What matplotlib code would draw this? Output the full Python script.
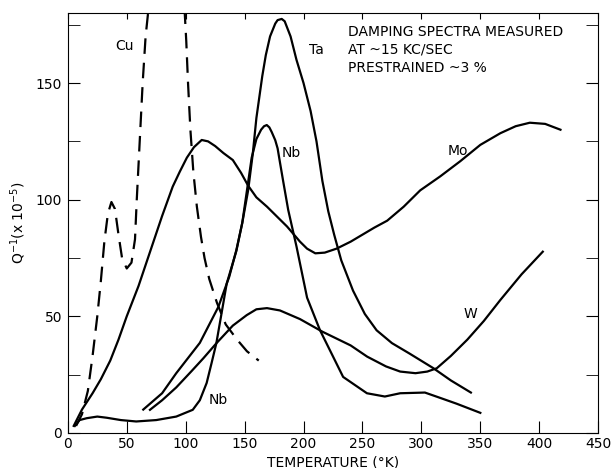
import matplotlib
matplotlib.use('Agg')
import matplotlib.pyplot as plt

# Cu (dashed), two branches
cu_x1 = [7, 12, 17, 21, 25, 28, 31, 34, 37, 40, 43, 46, 50, 54, 57, 58.5, 61, 63.5, 66, 68.5]
cu_y1 = [3, 8, 18, 33, 50, 65, 82, 94, 99, 96, 85, 75, 70.5, 73, 83, 100, 125, 150, 170, 182]
cu_x2 = [99, 100.5, 102, 104, 106.5, 109.5, 113, 116, 120, 126.6, 134, 143.6, 152, 162]
cu_y2 = [182, 168, 150, 130, 112, 97, 84, 75, 66, 55.7, 46.5, 40, 35, 31]

mo_x = [5, 12, 21, 28, 36, 43, 50, 60, 70, 80, 89, 95, 101, 107, 113.6, 119, 125, 132,
        140, 147, 153, 160, 169, 178, 186, 197, 203, 210, 218, 228, 240, 250, 260, 271,
        285, 299, 316, 333, 350, 367, 380, 392, 405, 418]
mo_y = [3, 10, 17, 23, 31, 40, 50, 63, 78, 93, 105.6, 112, 118, 122.5, 125.6, 125, 123,
        120, 117, 111.5, 106, 101, 97, 92.5, 88.5, 82, 79, 77, 77.3, 79, 82, 85, 88, 91,
        97, 104, 110, 116.5, 123.5, 128.5, 131.5, 133, 132.5, 130]

ta_x = [64, 80, 92, 112, 127.7, 137, 143, 148, 153, 157, 160, 165, 168, 171.6, 176, 178,
        181.5, 184, 189, 194, 200, 206, 211, 216, 221, 226, 232, 242, 252, 262, 275,
        290, 310, 325, 342]
ta_y = [10, 17, 25.6, 38.6, 54, 67, 78.4, 90, 104, 120, 135, 153, 162, 170, 175.5, 177,
        177.5, 176.5, 170, 160, 150, 138, 125, 108, 95, 85, 74, 61, 51, 44, 38.5,
        34, 27.8, 22.5, 17.3]

nb_x = [6, 10, 16, 25, 33, 45, 58, 75, 92, 106, 112, 117.8, 122, 126, 130, 134.8, 143,
        148, 152, 156, 160, 164, 166.5, 168.8, 171, 173, 176, 178, 180, 182.7, 187, 194,
        203, 214, 233.6, 253.8, 269, 282, 303, 316, 330, 350]
nb_y = [3, 5.5, 6.3, 7, 6.5, 5.5, 4.9, 5.5, 7, 9.9, 14, 21.4, 30, 38.4, 50, 64, 78,
        90, 104, 118, 126, 130, 131.5, 132, 131, 129, 125.5, 122, 116, 108, 95.6, 80,
        58, 44, 24, 17, 15.6, 17, 17.3, 15, 12.5, 8.6]

w_x = [69.7, 80, 92, 105, 115, 126, 140, 151.8, 160, 169, 180, 197, 216, 240, 254, 270,
       282, 295, 305, 313, 325, 339, 353, 367, 385, 403]
w_y = [9.9, 14, 19.5, 26.5, 32, 38.4, 46, 50.5, 53, 53.5, 52.5, 48.8, 43.4, 37.5, 32.7,
       28.5, 26.3, 25.6, 26.3, 27.7, 33, 40, 48, 57, 68, 77.7]

# curve labels: (text, x, y)
labels = [('Cu', 48, 166), ('Ta', 211, 164), ('Nb', 190, 120), ('Mo', 331, 121),
          ('W', 342, 51), ('Nb', 128, 14)]
note = ['DAMPING SPECTRA MEASURED', 'AT ~15 KC/SEC', 'PRESTRAINED ~3 %']

fig = plt.figure(figsize=(6.11, 4.68), dpi=100)
ax = fig.add_axes([0.111, 0.075, 0.868, 0.897])

lw = 1.6
ax.plot(cu_x1, cu_y1, color='black', lw=lw, dashes=(7, 4))
ax.plot(cu_x2, cu_y2, color='black', lw=lw, dashes=(7, 4))
ax.plot(mo_x, mo_y, color='black', lw=lw)
ax.plot(ta_x, ta_y, color='black', lw=lw)
ax.plot(nb_x, nb_y, color='black', lw=lw)
ax.plot(w_x, w_y, color='black', lw=lw)

for s, x, y in labels:
    ax.text(x, y, s, fontsize=10, ha='center', va='center')

for i, line in enumerate(note):
    ax.text(238, 171.9 - 7.7 * i, line, fontsize=10, ha='left', va='center')

ax.set_xlim(0, 450)
ax.set_ylim(0, 180)
ax.set_xticks(range(0, 451, 50))
ax.set_yticks([0, 50, 100, 150])
ax.set_yticks(range(25, 176, 50), minor=True)
ax.tick_params(axis='both', which='both', direction='in', length=8.5, labelsize=10)
ax.tick_params(axis='x', top=True, pad=3)
ax.tick_params(axis='y', which='both', right=True, pad=4)
for t in ax.xaxis.get_major_ticks():
    t.tick2line.set_markersize(4)

ax.set_xlabel('TEMPERATURE (°K)', fontsize=10, labelpad=3)
ax.set_ylabel('Q$^{-1}$(x 10$^{-5}$)', fontsize=10, labelpad=6)

fig.savefig('out.png', dpi=100)
